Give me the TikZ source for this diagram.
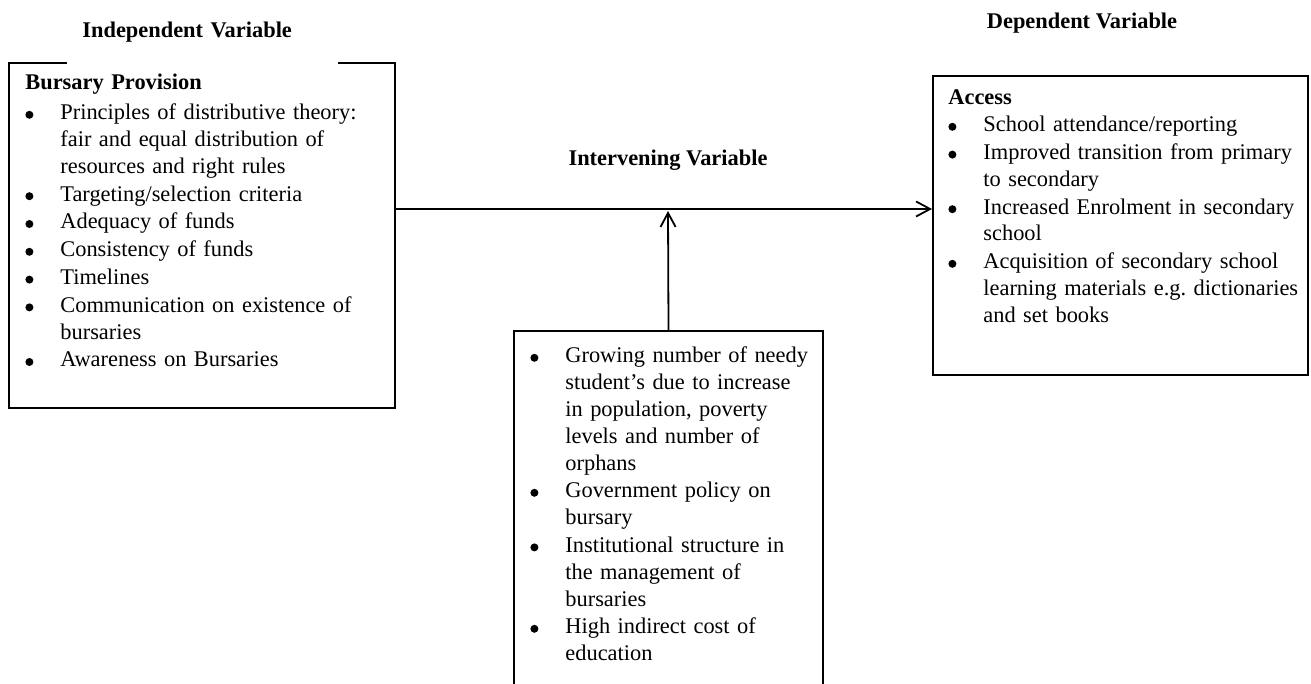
\documentclass[tikz,border=0pt]{standalone}
\usepackage{fontspec}
\setmainfont{Liberation Serif}
\usepackage{enumitem}
\usetikzlibrary{arrows.meta,positioning}

\newcommand{\boxfont}{\fontsize{11.2pt}{13.4pt}\selectfont}
\newcommand{\dotmark}{\raisebox{0.5pt}{\tikz[x=1pt,y=1pt]\fill (0,0) circle (2pt);}}
\setlist[itemize]{label=\dotmark, nosep, itemsep=0.5pt, leftmargin=17.5pt, labelwidth=17.5pt, labelsep=0pt, align=left}

\begin{document}
\begin{tikzpicture}[x=0.5pt,y=-0.5pt,
	varbox/.style={draw=black, line width=1pt, inner sep=0pt, anchor=north west},
	vartitle/.style={font=\boxfont\bfseries, inner sep=0pt, anchor=base},
	listtext/.style={font=\boxfont, inner sep=0pt, anchor=base west, align=left},
	link/.style={line width=0.9pt, -{Straight Barb[length=7pt,width=7.5pt]}}]
				\useasboundingbox (0,0) rectangle (1311,684);
				
				\node[varbox, minimum width=193pt, minimum height=172.5pt] (prov) at (8,62) {};
				\node[varbox, minimum width=187.5pt, minimum height=149.5pt] (acc) at (932,75) {};
				\node[varbox, minimum width=154.5pt, minimum height=200pt] (grow) at (513,330) {};
				
				\node[vartitle, anchor=base west, fill=white, inner xsep=7.5pt, text width=120.5pt, text depth=13pt, align=left] (indep) at (67,38) {Independent Variable};
				\node[vartitle] (interv) at (668,166) {Intervening Variable};
				\node[vartitle] (dep) at (1082,29) {Dependent Variable};
				
				\node[listtext, text width=177.5pt] (provtxt) at (25,90) {\textbf{Bursary Provision}
					\begin{itemize}[topsep=1.5pt]
						\item Principles of distributive theory:\newline fair and equal distribution of\newline resources and right rules
						\item Targeting/selection criteria
						\item Adequacy of funds
						\item Consistency of funds
						\item Timelines
						\item Communication on existence of\newline bursaries
						\item Awareness on Bursaries
					\end{itemize}};
				\node[listtext, text width=180pt] (acctxt) at (948,105) {\textbf{Access}
					\begin{itemize}
						\item School attendance/reporting
						\item Improved transition from primary\newline to secondary
						\item Increased Enrolment in secondary\newline school
						\item Acquisition of secondary school\newline learning materials e.g.\ dictionaries\newline and set books
					\end{itemize}};
				\node[listtext, text width=145pt] (growtxt) at (530,336) {%
					\begin{itemize}
						\item Growing number of needy\newline student’s due to increase\newline in population, poverty\newline levels and number of\newline orphans
						\item Government policy on\newline bursary
						\item Institutional structure in\newline the management of\newline bursaries
						\item High indirect cost of\newline education
					\end{itemize}};
				
				\coordinate (jn) at (668,209);
				\draw[link] (prov.east |- jn) -- (acc.west |- jn);
				\draw[link] (grow.north) -- ([yshift=-1pt]jn);
\end{tikzpicture}
\end{document}
